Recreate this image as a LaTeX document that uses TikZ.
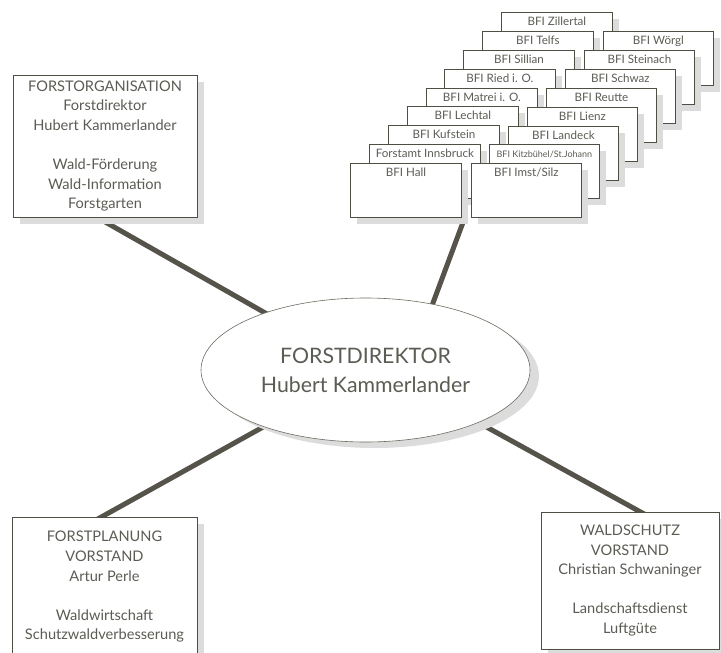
\documentclass[tikz,border=0pt]{standalone}
\usepackage{fontspec}
\setmainfont{Lato}
\usetikzlibrary{shapes.geometric,shadows,backgrounds}
\definecolor{linecol}{HTML}{55534A}
\definecolor{edgecol}{HTML}{4F4E42}
\definecolor{ellcol}{HTML}{6B6B60}
\definecolor{txtcol}{HTML}{5C5C55}
\definecolor{shadecol}{HTML}{DCDCDC}
\begin{document}
\begin{tikzpicture}[x=1pt,y=-1pt,
  sshad/.style={general shadow={shadow xshift=6.5pt, shadow yshift=-6.5pt, fill=shadecol}},
  bshad/.style={general shadow={shadow xshift=7pt, shadow yshift=-7pt, fill=shadecol}},
  eshad/.style={general shadow={shadow xshift=9pt, shadow yshift=-6pt, fill=shadecol}},
  sbox/.style={rectangle, draw=edgecol, line width=0.8pt, fill=white, sshad,
    anchor=north west, minimum width=111pt, inner xsep=0pt, inner ysep=0pt,
    text height=13pt, text depth=41pt, font=\fontsize{11.6}{13}\selectfont, text=txtcol},
  rbox/.style={sbox, minimum width=110pt},
  bbox/.style={rectangle, draw=edgecol, line width=0.9pt, fill=white, bshad,
    inner sep=0pt, align=center, text=txtcol, font=\fontsize{14.6}{19.6}\selectfont},
  ell/.style={ellipse, draw=ellcol, line width=0.6pt, fill=white, eshad,
    minimum width=329pt, minimum height=144pt, inner sep=0pt, align=center,
    text=txtcol, font=\fontsize{21.3}{29}\selectfont},
  conn/.style={draw=linecol, line width=5pt}
]
\useasboundingbox (0,0) rectangle (721,653);

% stacked district offices (back to front)
\node[sbox] (L0) at (501,12) {BFI Zillertal};
\node[rbox] (R0) at (603,31) {BFI Wörgl};
\node[sbox] (L1) at (482,31) {BFI Telfs};
\node[rbox] (R1) at (584,50) {BFI Steinach};
\node[sbox] (L2) at (463,50) {BFI Sillian};
\node[rbox] (R2) at (565,69) {BFI Schwaz};
\node[sbox] (L3) at (444,69) {BFI Ried i. O.};
\node[rbox] (R3) at (546,88) {BFI Reutte};
\node[sbox] (L4) at (426,88) {BFI Matrei i. O.};
\node[rbox] (R4) at (527,107) {BFI Lienz};
\node[sbox] (L5) at (407,106) {BFI Lechtal};
\node[rbox] (R5) at (508,126) {BFI Landeck};
\node[sbox] (L6) at (388,125) {BFI Kufstein};
\node[rbox, font=\fontsize{9}{13}\selectfont] (R6) at (489,144) {BFI Kitzbühel/St.Johann};
\node[sbox] (L7) at (369,144) {Forstamt Innsbruck};
\node[rbox] (R7) at (471,163) {BFI Imst/Silz};
\node[sbox] (L8) at (350,163) {BFI Hall};

% main boxes
\node[bbox, minimum width=184pt, minimum height=142pt] (FO) at (105,146)
  {FORSTORGANISATION\\Forstdirektor\\Hubert Kammerlander\\[19.6pt]Wald-Förderung\\Wald-Information\\Forstgarten};
\node[bbox, minimum width=185pt, minimum height=140pt] (FP) at (104.5,587)
  {FORSTPLANUNG\\VORSTAND\\Artur Perle\\[19.6pt]Waldwirtschaft\\Schutzwaldverbesserung};
\node[bbox, minimum width=178pt, minimum height=137pt] (WS) at (630,580.5)
  {WALDSCHUTZ\\VORSTAND\\Christian Schwaninger\\[19.6pt]Landschaftsdienst\\Luftgüte};

% central ellipse
\node[ell] (E) at (365.5,370) {FORSTDIREKTOR\\Hubert Kammerlander};

% connector ends (hidden under shapes)
\coordinate (tlEnd) at (100,219);
\coordinate (trStart) at (408,370);
\coordinate (trEnd) at (465,217);
\coordinate (blEnd) at (96,520);
\coordinate (brStart) at (365,360);
\coordinate (brEnd) at (646,515);

\begin{pgfonlayer}{background}
  \draw[conn] (E.center) -- (tlEnd);
  \draw[conn] (trStart) -- (trEnd);
  \draw[conn] (E.center) -- (blEnd);
  \draw[conn] (brStart) -- (brEnd);
\end{pgfonlayer}
\end{tikzpicture}
\end{document}
